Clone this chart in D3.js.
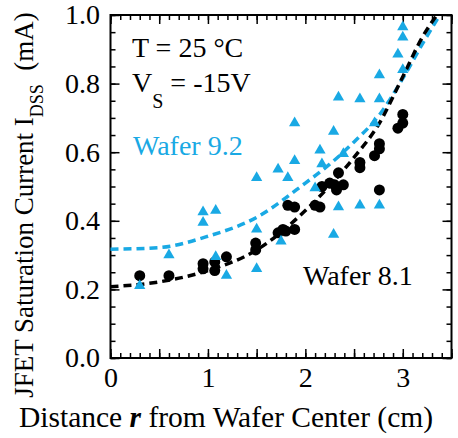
<!DOCTYPE html>
<html>
<head>
<meta charset="utf-8">
<script src="https://cdn.jsdelivr.net/npm/d3@7"></script>
<style>
  body { margin: 0; background: #fff; }
  svg { display: block; }
</style>
</head>
<body>
<svg id="chart" width="458" height="438"></svg>
<script>
// JFET saturation current vs. distance from wafer center, two wafers.

// Wafer 8.1 (black circles): [r (cm), IDSS (mA)]
var wafer81 = [
  [0.30, 0.24], [0.60, 0.24], [0.95, 0.275], [0.95, 0.26], [1.07, 0.28], [1.07, 0.255],
  [1.19, 0.295], [1.49, 0.335], [1.49, 0.315], [1.72, 0.365], [1.77, 0.375], [1.80, 0.37],
  [1.89, 0.375], [1.82, 0.445], [1.89, 0.44], [2.10, 0.445], [2.15, 0.44], [2.17, 0.50],
  [2.25, 0.51], [2.30, 0.505], [2.32, 0.49], [2.39, 0.505], [2.34, 0.54], [2.56, 0.57],
  [2.56, 0.555], [2.71, 0.59], [2.76, 0.61], [2.76, 0.625], [2.76, 0.49], [2.95, 0.67],
  [3.00, 0.685], [3.00, 0.71]
];
// Wafer 9.2 (blue triangles)
var wafer92 = [
  [0.30, 0.215], [0.60, 0.305], [0.95, 0.43], [0.95, 0.40], [1.08, 0.435], [1.08, 0.30],
  [1.19, 0.245], [1.50, 0.53], [1.50, 0.38], [1.50, 0.265], [1.72, 0.555], [1.75, 0.345],
  [1.82, 0.53], [1.89, 0.69], [1.89, 0.58], [2.10, 0.50], [2.15, 0.61], [2.17, 0.57],
  [2.29, 0.665], [2.29, 0.365], [2.34, 0.765], [2.34, 0.445], [2.39, 0.60], [2.56, 0.76],
  [2.56, 0.45], [2.71, 0.69], [2.76, 0.83], [2.76, 0.76], [2.76, 0.45], [2.95, 0.89],
  [3.00, 0.845], [3.00, 0.94], [3.00, 0.97]
];
// fit curves
var fit81 = [[0, 0.208], [0.5, 0.222], [1.0, 0.255], [1.5, 0.315], [2.0, 0.43], [2.5, 0.585],
  [2.75, 0.68], [3.0, 0.82], [3.2, 0.935], [3.35, 1.0]];
var fit92 = [[0, 0.317], [0.5, 0.322], [1.0, 0.355], [1.5, 0.41], [2.0, 0.51], [2.25, 0.565],
  [2.5, 0.63], [2.75, 0.705], [3.0, 0.815], [3.2, 0.915], [3.38, 1.0]];

var xTickLabels = [0, 1, 2, 3];
var yTickLabels = [0, 0.2, 0.4, 0.6, 0.8, 1.0];

var BLUE = "#19a9e4";
var FONT = "28px";
var SERIF = "'Liberation Serif'";

var svg = d3.select("#chart");
var x = d3.scaleLinear().domain([0, 3.5]).range([110.5, 451.5]);
var y = d3.scaleLinear().domain([0, 1]).range([358, 15]);

var xMinor = d3.range(0, 36).map(function(i) { return i / 10; });
var xMajor = d3.range(0, 8).map(function(i) { return i / 2; });
var yMinor = d3.range(0, 21).map(function(i) { return i / 20; });

function styleAxis(g) {
  g.attr("font-family", null).attr("font-size", null);
  g.select(".domain").remove();
  g.selectAll("line").attr("stroke", "#000").attr("stroke-width", 1.5);
  g.selectAll("text").style("font-family", SERIF)
    .style("font-size", FONT).attr("fill", "#000");
}

function label(sel) {
  sel.style("font-family", SERIF).style("font-size", FONT);
}

// bottom + top
svg.append("g").attr("transform", "translate(0," + y(0) + ")")
  .call(d3.axisBottom(x).tickValues(xMinor).tickSize(-5).tickFormat(""))
  .call(styleAxis);
svg.append("g").attr("transform", "translate(0," + y(0) + ")")
  .call(d3.axisBottom(x).tickValues(xMajor).tickSize(-9).tickPadding(9)
    .tickFormat(function(d) { return xTickLabels.indexOf(d) >= 0 ? d : ""; }))
  .call(styleAxis);
svg.append("g").attr("transform", "translate(0," + y(1) + ")")
  .call(d3.axisTop(x).tickValues(xMinor).tickSize(-5).tickFormat(""))
  .call(styleAxis);
svg.append("g").attr("transform", "translate(0," + y(1) + ")")
  .call(d3.axisTop(x).tickValues(xMajor).tickSize(-9).tickFormat(""))
  .call(styleAxis);

// left + right
svg.append("g").attr("transform", "translate(" + x(0) + ",0)")
  .call(d3.axisLeft(y).tickValues(yMinor).tickSize(-5).tickFormat(""))
  .call(styleAxis);
svg.append("g").attr("transform", "translate(" + x(0) + ",0)")
  .call(d3.axisLeft(y).tickValues(yTickLabels).tickSize(-9).tickPadding(10.5)
    .tickFormat(d3.format(".1f")))
  .call(styleAxis);
svg.append("g").attr("transform", "translate(" + x(3.5) + ",0)")
  .call(d3.axisRight(y).tickValues(yMinor).tickSize(-5).tickFormat(""))
  .call(styleAxis);
svg.append("g").attr("transform", "translate(" + x(3.5) + ",0)")
  .call(d3.axisRight(y).tickValues(yTickLabels).tickSize(-9).tickFormat(""))
  .call(styleAxis);

// frame
svg.append("rect")
  .attr("x", x(0)).attr("y", y(1))
  .attr("width", x(3.5) - x(0)).attr("height", y(0) - y(1))
  .attr("fill", "none").attr("stroke", "#000").attr("stroke-width", 2);

// fit curves
var line = d3.line()
  .x(function(d) { return x(d[0]); })
  .y(function(d) { return y(d[1]); })
  .curve(d3.curveMonotoneX);

svg.append("path").datum(fit92)
  .attr("d", line).attr("fill", "none")
  .attr("stroke", BLUE).attr("stroke-width", 3.5).attr("stroke-dasharray", "8,5");
svg.append("path").datum(fit81)
  .attr("d", line).attr("fill", "none")
  .attr("stroke", "#000").attr("stroke-width", 3.5).attr("stroke-dasharray", "8,5");

// points
svg.append("g").selectAll("circle").data(wafer81).enter().append("circle")
  .attr("cx", function(d) { return x(d[0]); })
  .attr("cy", function(d) { return y(d[1]); })
  .attr("r", 5.5).attr("fill", "#000");

var tri = d3.symbol().type(d3.symbolTriangle).size(55);
svg.append("g").selectAll("path").data(wafer92).enter().append("path")
  .attr("d", tri)
  .attr("transform", function(d) { return "translate(" + x(d[0]) + "," + (y(d[1]) + 1.6) + ")"; })
  .attr("fill", BLUE);

// annotations
var t1 = svg.append("text").attr("x", 132).attr("y", 57);
label(t1);
t1.text("T = 25 \u00b0C");

var vs = svg.append("text").attr("x", 132).attr("y", 92);
label(vs);
vs.append("tspan").text("V");
vs.append("tspan").attr("dy", 16).style("font-size", "20px").text("S");
vs.append("tspan").attr("dy", -16).text(" = -15V");

var w92 = svg.append("text").attr("x", 133).attr("y", 155).attr("fill", BLUE);
label(w92);
w92.text("Wafer 9.2");

var w81 = svg.append("text").attr("x", 303).attr("y", 285);
label(w81);
w81.text("Wafer 8.1");

// axis titles
var xt = svg.append("text").attr("x", 19).attr("y", 427);
label(xt);
xt.style("font-size", "29.5px");
xt.append("tspan").text("Distance ");
xt.append("tspan").style("font-weight", "bold").style("font-style", "italic").text("r");
xt.append("tspan").text(" from Wafer Center (cm)");

var yt = svg.append("text").attr("transform", "translate(33,205) rotate(-90)")
  .attr("text-anchor", "middle");
label(yt);
yt.style("font-size", "27px");
yt.append("tspan").text("JFET Saturation Current I");
yt.append("tspan").attr("dy", 10).style("font-size", "18px").text("DSS");
yt.append("tspan").attr("dy", -10).text("\u00a0 (mA)");
</script>
</body>
</html>
